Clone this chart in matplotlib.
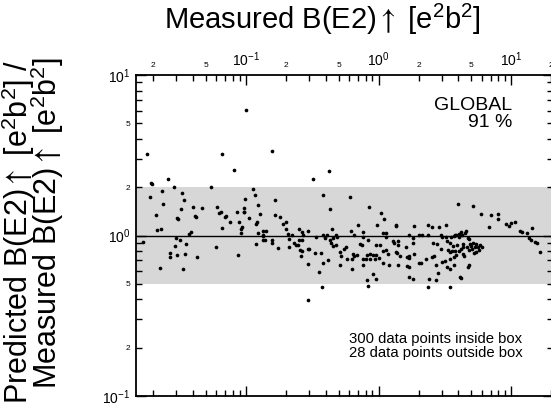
import numpy as np
import matplotlib
matplotlib.use("Agg")
import matplotlib.pyplot as plt
from matplotlib.ticker import LogLocator, FuncFormatter, LogFormatterSciNotation

plt.rcParams['font.family'] = ['Liberation Sans', 'DejaVu Sans']
plt.rcParams['mathtext.fontset'] = 'stixsans'

# ---- data (log10 of measured B(E2) and log10 of predicted/measured ratio) ----
log10_measured_a = [-1.742, -1.717, -1.707, -1.724, -1.589, -1.632, -1.622, -1.539, -1.674, -1.669, -1.641,
                    -1.521, -1.511, -1.481, -1.464, -1.486, -1.401, -1.381, -1.374, -1.431, -1.414, -1.524,
                    -1.494, -1.772, -1.644, -1.574, -1.574, -1.536, -1.521, -1.471, -1.459, -1.449, -1.366]
log10_ratio_a = [0.506, 0.325, 0.323, 0.238, 0.350, 0.275, 0.196, 0.302, 0.130, 0.032, 0.040,
                 0.107, 0.105, 0.263, 0.221, 0.167, 0.178, 0.120, 0.117, 0.009, 0.019, -0.017,
                 -0.026, -0.042, -0.201, -0.109, -0.136, -0.064, -0.121, -0.211, -0.113, -0.053, -0.136]

log10_measured_b = [-1.331, -1.263, -1.180, -1.088, -1.000, -1.218, -1.190, -1.203, -1.150, -1.158, -1.180,
                    -1.120, -1.065, -1.050, -1.017, -1.017, -1.010, -1.005, -1.038, -1.028, -1.038, -0.972,
                    -0.947, -0.932, -0.905, -0.895, -0.923, -0.912, -0.910, -0.872, -0.847, -0.872, -0.799,
                    -1.228, -1.062, -0.920, -0.874, -0.870, -0.852, -0.802, -0.799]
log10_ratio_b = [0.173, 0.302, 0.510, 0.408, 0.782, 0.178, 0.145, 0.140, 0.121, 0.117, 0.045,
                 0.082, 0.146, 0.082, 0.173, 0.146, 0.146, 0.226, 0.040, 0.053, 0.017, 0.107,
                 0.288, 0.254, 0.190, 0.132, 0.074, 0.086, 0.014, 0.030, 0.030, 0.005, 0.525,
                 -0.074, -0.123, -0.055, -0.003, -0.026, -0.026, -0.026, -0.045]

log10_measured_c = [-0.782, -0.782, -0.742, -0.720, -0.694, -0.699, -0.682, -0.654, -0.602, -0.571, -0.532,
                    -0.471, -0.494, -0.754, -0.674, -0.677, -0.634, -0.624, -0.604, -0.589, -0.577, -0.586,
                    -0.532, -0.523, -0.529, -0.529, -0.476, -0.449, -0.599, -0.577, -0.574]
log10_ratio_c = [0.221, 0.130, 0.115, 0.072, 0.084, 0.040, 0.009, 0.003, 0.040, 0.001, 0.028,
                 -0.007, 0.354, -0.078, -0.020, -0.072, -0.045, -0.057, -0.061, -0.088, -0.097, -0.128,
                 -0.082, -0.086, -0.176, -0.402, -0.107, -0.227, -0.030, -0.026, 0.024]

log10_measured_d = [-0.421, -0.374, -0.368, -0.351, -0.391, -0.318, -0.216, -0.211, -0.183, -0.158, -0.118,
                    -0.070, -0.010, -0.436, -0.423, -0.416, -0.378, -0.419, -0.404, -0.366, -0.344, -0.311,
                    -0.359, -0.344, -0.318, -0.293, -0.286, -0.263, -0.248, -0.293, -0.238, -0.201, -0.201,
                    -0.193, -0.183, -0.165, -0.143, -0.128, -0.118, -0.092, -0.118, -0.088, -0.068, -0.043,
                    -0.017, -0.088, -0.077, -0.043, -0.020, -0.062, -0.025, 0.002, -0.017, 0.008, -0.083,
                    -0.118]
log10_ratio_d = [0.252, 0.399, 0.165, 0.039, 0.003, 0.001, 0.240, 0.028, 0.003, 0.065, 0.020,
                 0.178, 0.067, -0.111, -0.319, -0.169, -0.151, 0.005, -0.017, -0.028, -0.016, -0.011,
                 -0.049, -0.065, -0.061, -0.101, -0.126, -0.086, -0.074, -0.184, -0.146, -0.148, -0.207,
                 -0.115, -0.128, -0.121, -0.053, -0.059, -0.148, -0.145, -0.184, -0.123, -0.115, -0.121,
                 -0.123, -0.277, -0.315, -0.238, -0.271, -0.148, -0.148, -0.140, -0.057, -0.061, -0.026,
                 -0.007]

log10_measured_e = [0.020, 0.043, 0.032, 0.053, 0.128, 0.128, 0.058, 0.032, 0.053, 0.068, 0.032,
                    0.077, 0.108, 0.113, 0.145, 0.145, 0.128, 0.141, 0.163, 0.145, 0.208, 0.213,
                    0.233, 0.213, 0.233, 0.233, 0.258, 0.258, 0.258, 0.267, 0.265, 0.308, 0.323,
                    0.303, 0.329, 0.233, 0.233]
log10_ratio_e = [0.140, 0.101, 0.014, 0.017, 0.065, 0.061, -0.011, -0.097, -0.093, -0.115, -0.173,
                 -0.182, -0.032, -0.049, -0.036, -0.061, -0.101, -0.111, -0.128, -0.186, -0.074, -0.136,
                 -0.128, -0.190, -0.198, -0.260, -0.269, -0.017, -0.049, 0.057, -0.115, -0.173, -0.169,
                 0.003, 0.005, -0.142, 0.001]

log10_measured_f = [0.371, 0.359, 0.383, 0.374, 0.404, 0.416, 0.429, 0.444, 0.434, 0.438, 0.471,
                    0.479, 0.474, 0.479, 0.504, 0.513, 0.539, 0.539, 0.539, 0.566, 0.566, 0.579,
                    0.584, 0.559, 0.589, 0.609, 0.622, 0.634, 0.644, 0.634, 0.639, 0.614, 0.624,
                    0.654, 0.671, 0.684, 0.669, 0.679, 0.692, 0.699, 0.704, 0.679, 0.671, 0.714,
                    0.724, 0.735, 0.750, 0.765, 0.780, 0.759, 0.735, 0.722, 0.374, 0.406, 0.459,
                    0.506, 0.574, 0.619, 0.629, 0.656, 0.602, 0.708, 0.774, 0.844, 0.832, 0.902,
                    0.902, 0.516, 0.539, 0.524, 0.539, 0.554, 0.549, 0.571, 0.584, 0.604, 0.609,
                    0.408, 0.511]
log10_ratio_f = [0.003, -0.148, -0.273, -0.319, -0.136, -0.128, -0.182, -0.232, -0.277, -0.053, -0.086,
                 -0.007, 0.006, -0.163, -0.157, -0.198, -0.211, -0.321, -0.148, -0.136, -0.184, -0.097,
                 -0.121, -0.065, -0.057, -0.095, -0.086, -0.115, -0.128, -0.053, -0.074, -0.257, -0.263,
                 0.014, -0.016, -0.024, -0.070, -0.090, -0.053, -0.065, -0.084, -0.184, -0.198, -0.049,
                 -0.074, -0.053, -0.070, -0.059, -0.070, -0.090, -0.101, -0.111, 0.065, 0.051, 0.051,
                 0.065, 0.003, 0.020, 0.005, 0.028, 0.199, 0.182, 0.134, 0.126, 0.051, 0.134,
                 0.105, -0.032, -0.045, -0.090, -0.103, -0.097, -0.007, -0.003, 0.005, 0.009, -0.011,
                 -0.049, -0.011]

log10_measured_g = [0.962, 0.983, 0.998, 1.026, 1.062, 1.083, 1.117, 1.153, 1.130, 1.145, 1.175, 1.190, 1.216]
log10_ratio_g = [0.074, 0.058, 0.076, 0.083, 0.029, 0.019, 0.017, 0.045, -0.017, -0.028, -0.040, -0.049, -0.101]

x_limits = (0.0149, 20.6)
y_limits = (0.1, 10.0)
band_limits = (0.5, 2.0)
reference_ratio = 1.0

unit = r"[e$^{\mathdefault{2}}$b$^{\mathdefault{2}}$]"
title_text = r"Measured B(E2)$\uparrow$ " + unit
ylabel_line1 = r"Predicted B(E2)$\uparrow$ " + unit + " /"
ylabel_line2 = r"Measured B(E2)$\uparrow$ " + unit
global_text = "GLOBAL\n91 %"
count_text = "300 data points inside box\n28 data points outside box"

log_x = np.concatenate([log10_measured_a, log10_measured_b, log10_measured_c, log10_measured_d,
                        log10_measured_e, log10_measured_f, log10_measured_g])
log_y = np.concatenate([log10_ratio_a, log10_ratio_b, log10_ratio_c, log10_ratio_d,
                        log10_ratio_e, log10_ratio_f, log10_ratio_g])
measured = 10.0 ** log_x
ratio = 10.0 ** log_y

W, H = 551, 412
fig = plt.figure(figsize=(W / 100, H / 100), dpi=100)
ax = fig.add_axes([136 / W, 16 / H, 417 / W, 321 / H])
ax.set_xscale('log')
ax.set_yscale('log')

ax.axhspan(band_limits[0], band_limits[1], color='#d7d7d7', lw=0, zorder=0)
ax.axhline(reference_ratio, color='black', lw=1.0, zorder=1)
ax.scatter(measured, ratio, s=7, c='black', linewidths=0, zorder=2)

ax.set_xlim(*x_limits)
ax.set_ylim(*y_limits)

for sp in ax.spines.values():
    sp.set_linewidth(1.3)

def minor_fmt(v, pos):
    if v <= 0:
        return ''
    m = v / 10 ** np.floor(np.log10(v) + 1e-9)
    m = int(round(m))
    return str(m) if m in (2, 5) else ''

for axis in (ax.xaxis, ax.yaxis):
    axis.set_major_locator(LogLocator(base=10, numticks=10))
    axis.set_minor_locator(LogLocator(base=10, subs=np.arange(2, 10), numticks=20))
    axis.set_major_formatter(LogFormatterSciNotation())
    axis.set_minor_formatter(FuncFormatter(minor_fmt))

ax.xaxis.set_label_position('top')
ax.tick_params(axis='x', which='both', top=True, bottom=True, labeltop=True, labelbottom=False,
               direction='in')
ax.tick_params(axis='y', which='both', left=True, right=True, labelleft=True, labelright=False,
               direction='in')
ax.tick_params(which='major', length=7, width=1.0, labelsize=10, pad=4)
ax.tick_params(which='minor', length=4, width=1.0, labelsize=6, pad=4)

fig.text(322 / W, 1 - 20 / H, title_text, ha='center', va='center', fontsize=21)
fig.text(28.5 / W, 1 - 60 / H, ylabel_line1, rotation=90, rotation_mode='anchor',
         ha='right', va='baseline', fontsize=22)
fig.text(57 / W, 1 - 57 / H, ylabel_line2, rotation=90, rotation_mode='anchor',
         ha='right', va='baseline', fontsize=22)

fig.text(512 / W, 1 - 97 / H, global_text, ha='right', va='top', fontsize=14, linespacing=1.0)
fig.text(349 / W, 1 - 346 / H, count_text, ha='left', va='center', fontsize=10.7, linespacing=1.0)

fig.savefig('out.png', dpi=100)
